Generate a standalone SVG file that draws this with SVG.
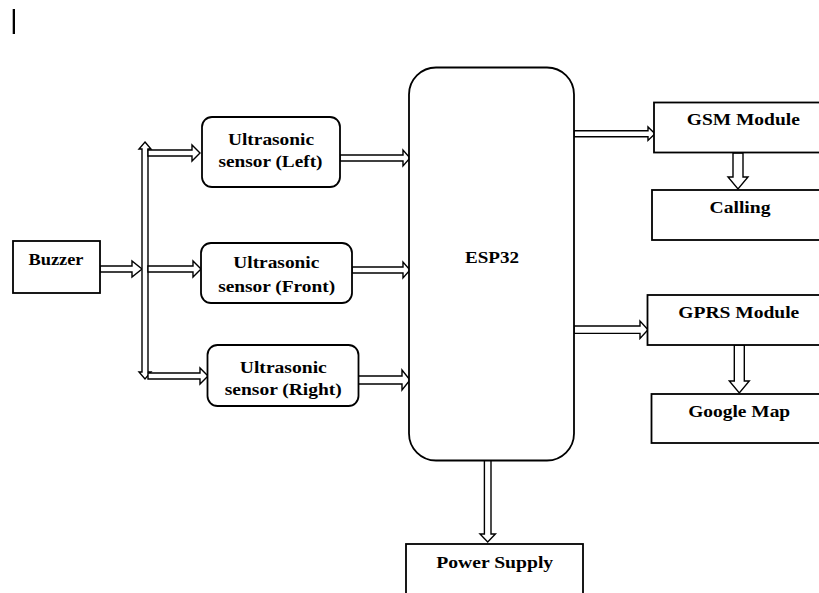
<svg xmlns="http://www.w3.org/2000/svg" width="819" height="593" viewBox="0 0 819 593">
<style>
.box{fill:#fff;stroke:#000;stroke-width:1.8}
.arr{fill:#fff;stroke:#000;stroke-width:1.4;stroke-linejoin:miter}
.t{font-family:"Liberation Serif","Times New Roman",serif;font-weight:bold;font-size:16px;fill:#000;text-anchor:middle}
</style>
<rect width="819" height="593" fill="#fff"/>
<rect x="12.7" y="9" width="2.3" height="25" fill="#000"/>
<g id="connectors">
  <polygon class="arr" points="100,266 132,266 132,261 142,269 132,277 132,272 100,272"/>
  <polygon class="arr" points="145,142 151,149 148,149 148,372 151,372 145,379 139,372 142,372 142,149 139,149"/>
  <polygon class="arr" points="148,150 192,150 192,145 200,153 192,161 192,156 148,156"/>
  <polygon class="arr" points="148,266 193,266 193,261 201,269 193,277 193,272 148,272"/>
  <polygon class="arr" points="148,373 200,373 200,368 208,376 200,384 200,379 148,379"/>
  <polygon class="arr" points="340,155 403,155 403,150 410,158 403,166 403,161 340,161"/>
  <polygon class="arr" points="352,267 403,267 403,262 410,270 403,278 403,273 352,273"/>
  <polygon class="arr" points="358,376 402,376 402,370 410,380 402,390 402,384 358,384"/>
  <polygon class="arr" points="574,130.7 648,130.7 648,127 655,133.7 648,140.4 648,136.7 574,136.7"/>
  <polygon class="arr" points="574,326 640,326 640,321 648,329.7 640,338.4 640,333.4 574,333.4"/>
  <polygon class="arr" points="733,153 743,153 743,177 748,177 738,189 728,177 733,177"/>
  <polygon class="arr" points="734.3,345 744.3,345 744.3,381 749.3,381 739.3,393 729.3,381 734.3,381"/>
  <polygon class="arr" points="484.4,460 491,460 491,534 495.4,534 487.7,542 480,534 484.4,534"/>
</g>
<g id="buzzer">
  <rect class="box" x="13" y="241" width="87" height="52"/>
  <text class="t" x="56" y="265" textLength="55" lengthAdjust="spacingAndGlyphs">Buzzer</text>
</g>
<g id="sensor-left">
  <rect class="box" x="202" y="117" width="138" height="70" rx="10"/>
  <text class="t" x="271" y="145" textLength="86" lengthAdjust="spacingAndGlyphs">Ultrasonic</text>
  <text class="t" x="270.5" y="167" textLength="104" lengthAdjust="spacingAndGlyphs">sensor (Left)</text>
</g>
<g id="sensor-front">
  <rect class="box" x="201" y="243" width="151" height="60" rx="10"/>
  <text class="t" x="276.3" y="268" textLength="86" lengthAdjust="spacingAndGlyphs">Ultrasonic</text>
  <text class="t" x="276.7" y="292" textLength="117" lengthAdjust="spacingAndGlyphs">sensor (Front)</text>
</g>
<g id="sensor-right">
  <rect class="box" x="207.5" y="345" width="151" height="61" rx="10"/>
  <text class="t" x="283.3" y="373" textLength="87" lengthAdjust="spacingAndGlyphs">Ultrasonic</text>
  <text class="t" x="283.3" y="395" textLength="117" lengthAdjust="spacingAndGlyphs">sensor (Right)</text>
</g>
<g id="esp32">
  <rect class="box" x="409" y="67.5" width="165" height="393" rx="27"/>
  <text class="t" x="492" y="262.7" textLength="54" lengthAdjust="spacingAndGlyphs">ESP32</text>
</g>
<g id="gsm">
  <rect class="box" x="654" y="102.5" width="175" height="50"/>
  <text class="t" x="743.3" y="125" textLength="113" lengthAdjust="spacingAndGlyphs">GSM Module</text>
</g>
<g id="calling">
  <rect class="box" x="652" y="190" width="177" height="50"/>
  <text class="t" x="740" y="213" textLength="61" lengthAdjust="spacingAndGlyphs">Calling</text>
</g>
<g id="gprs">
  <rect class="box" x="647.5" y="295" width="181" height="50"/>
  <text class="t" x="738.8" y="318" textLength="121" lengthAdjust="spacingAndGlyphs">GPRS Module</text>
</g>
<g id="googlemap">
  <rect class="box" x="651.5" y="394" width="177" height="49"/>
  <text class="t" x="739.2" y="417" textLength="102" lengthAdjust="spacingAndGlyphs">Google Map</text>
</g>
<g id="power">
  <rect class="box" x="406" y="544" width="177" height="60"/>
  <text class="t" x="494.7" y="567.5" textLength="117" lengthAdjust="spacingAndGlyphs">Power Supply</text>
</g>
</svg>
